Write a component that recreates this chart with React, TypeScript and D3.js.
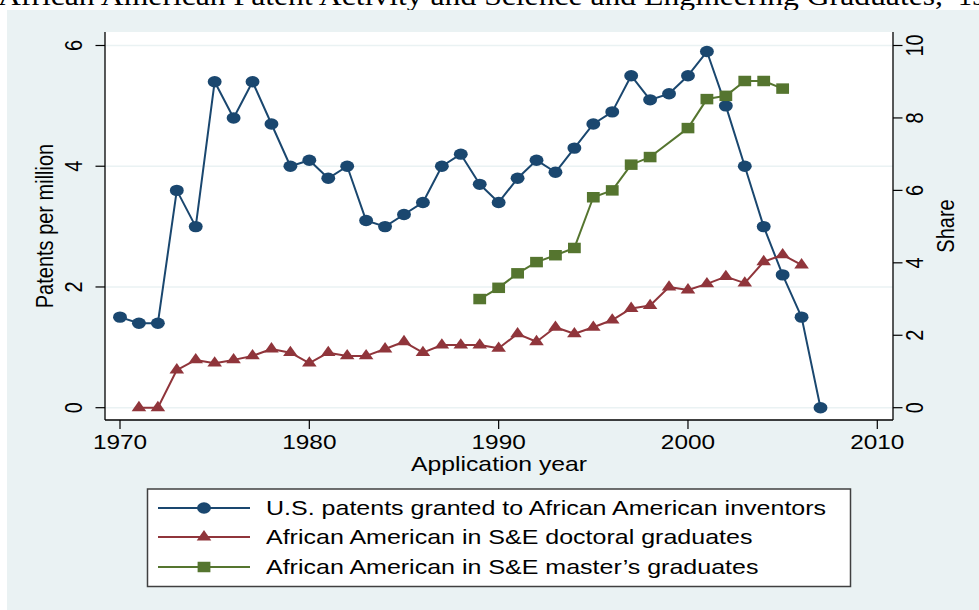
import React from "react";
import * as d3 from "d3";

const patentYears = [1970,1971,1972,1973,1974,1975,1976,1977,1978,1979,1980,1981,1982,1983,1984,1985,1986,1987,1988,1989,1990,1991,1992,1993,1994,1995,1996,1997,1998,1999,2000,2001,2002,2003,2004,2005,2006,2007];
const patentValues = [1.5,1.4,1.4,3.6,3.0,5.4,4.8,5.4,4.7,4.0,4.1,3.8,4.0,3.1,3.0,3.2,3.4,4.0,4.2,3.7,3.4,3.8,4.1,3.9,4.3,4.7,4.9,5.5,5.1,5.2,5.5,5.9,5.0,4.0,3.0,2.2,1.5,0];

const doctoralYears = [1971,1972,1973,1974,1975,1976,1977,1978,1979,1980,1981,1982,1983,1984,1985,1986,1987,1988,1989,1990,1991,1992,1993,1994,1995,1996,1997,1998,1999,2000,2001,2002,2003,2004,2005,2006];
const doctoralValues = [0,0,1.04,1.32,1.23,1.32,1.43,1.62,1.52,1.23,1.52,1.43,1.43,1.62,1.82,1.52,1.73,1.73,1.73,1.64,2.04,1.82,2.22,2.04,2.22,2.42,2.74,2.82,3.33,3.25,3.42,3.62,3.44,4.03,4.22,3.94];

const masterYears = [1989,1990,1991,1992,1993,1994,1995,1996,1997,1998,2000,2001,2002,2003,2004,2005];
const masterValues = [3.0,3.31,3.71,4.02,4.21,4.41,5.81,6.0,6.71,6.92,7.72,8.52,8.61,9.02,9.02,8.81];

const xTicks = [1970, 1980, 1990, 2000, 2010];
const leftTicks = [0, 2, 4, 6];
const rightTicks = [0, 2, 4, 6, 8, 10];

const seriesLabels = [
  "U.S. patents granted to African American inventors",
  "African American in S&E doctoral graduates",
  "African American in S\u0026E master\u2019s graduates",
];
const titleText = "African American Patent Activity and Science and Engineering Graduates,";
const titleTail = "1970\u20132007";

const NAVY = "#1a476f";
const MAROON = "#90353b";
const GREEN = "#55752f";
const BG = "#eaf2f3";
const SX = 1.22;
const FONT = "'Liberation Sans', Arial, Helvetica, sans-serif";

function ST({ x, y, rot, anchor, size, children }: any) {
  return (
    <g transform={`translate(${x},${y}) scale(${SX},1)${rot ? ` rotate(${rot})` : ""}`}>
      <text textAnchor={anchor || "start"} fontSize={size || 20} fontFamily={FONT} fill="#000">
        {children}
      </text>
    </g>
  );
}

export default function App() {
  const W = 979, H = 610;
  const plot = { x0: 105, x1: 893, y0: 32, y1: 420 };
  const x = d3.scaleLinear().domain([1970, 2010]).range([120, 877.3]);
  const yL = d3.scaleLinear().domain([0, 6]).range([407.7, 45.5]);
  const yR = d3.scaleLinear().domain([0, 10]).range([407.7, 45.5]);

  const blue = patentYears.map((yr, i) => [x(yr), yL(patentValues[i])] as [number, number]);
  const red = doctoralYears.map((yr, i) => [x(yr), yR(doctoralValues[i])] as [number, number]);
  const green = masterYears.map((yr, i) => [x(yr), yR(masterValues[i])] as [number, number]);
  const line = d3.line();

  const circ = d3.symbol().type(d3.symbolCircle).size(Math.PI * 5.7 * 5.7)()!;
  const tri = d3.symbol().type(d3.symbolTriangle).size(62)()!;
  const sq = d3.symbol().type(d3.symbolSquare).size(110)()!;

  const series = [
    { pts: blue, color: NAVY, sym: circ },
    { pts: red, color: MAROON, sym: tri },
    { pts: green, color: GREEN, sym: sq },
  ];

  const legendRows = [515, 544, 574];

  return (
    <svg width={W} height={H} style={{ position: "absolute", left: 0, top: 0 }} xmlns="http://www.w3.org/2000/svg">
      <rect x={0} y={0} width={W} height={H} fill="#fff" />
      <text x={-2} y={5} fontFamily="'Liberation Serif', 'Times New Roman', serif" fontSize={28} textLength={945} lengthAdjust="spacingAndGlyphs" fill="#000">
        {titleText}
      </text>
      <text x={958} y={5} fontFamily="'Liberation Serif', 'Times New Roman', serif" fontSize={28} fill="#000">
        {titleTail}
      </text>
      <rect x={7} y={10} width={W - 7} height={H - 10} fill={BG} />
      <rect x={plot.x0} y={plot.y0} width={plot.x1 - plot.x0} height={plot.y1 - plot.y0} fill="#fff" />

      {leftTicks.map((t) => (
        <line key={"g" + t} x1={plot.x0} x2={plot.x1} y1={yL(t)} y2={yL(t)} stroke={BG} strokeWidth={1.6} />
      ))}

      {/* axes */}
      <line x1={plot.x0} x2={plot.x0} y1={plot.y0} y2={plot.y1} stroke="#000" strokeWidth={1.3} />
      <line x1={plot.x1} x2={plot.x1} y1={plot.y0} y2={plot.y1} stroke="#000" strokeWidth={1.3} />
      <line x1={plot.x0} x2={plot.x1} y1={plot.y1} y2={plot.y1} stroke="#000" strokeWidth={1.3} />

      {leftTicks.map((t) => (
        <g key={"l" + t}>
          <line x1={plot.x0 - 9.5} x2={plot.x0} y1={yL(t)} y2={yL(t)} stroke="#000" strokeWidth={1.2} />
          <ST x={82.3} y={yL(t)} rot={-90} anchor="middle">{String(t)}</ST>
        </g>
      ))}
      {rightTicks.map((t) => (
        <g key={"r" + t}>
          <line x1={plot.x1} x2={plot.x1 + 9.5} y1={yR(t)} y2={yR(t)} stroke="#000" strokeWidth={1.2} />
          <ST x={923} y={yR(t)} rot={-90} anchor="middle">{String(t)}</ST>
        </g>
      ))}
      {xTicks.map((t) => (
        <g key={"x" + t}>
          <line x1={x(t)} x2={x(t)} y1={plot.y1} y2={plot.y1 + 9} stroke="#000" strokeWidth={1.2} />
          <ST x={x(t)} y={449} anchor="middle">{String(t)}</ST>
        </g>
      ))}

      <ST x={53} y={226} rot={-90} anchor="middle">Patents per million</ST>
      <ST x={954} y={226} rot={-90} anchor="middle">Share</ST>
      <ST x={(plot.x0 + plot.x1) / 2} y={471} anchor="middle" size={20.3}>Application year</ST>

      {series.map((s, i) => (
        <g key={"s" + i}>
          <path d={line(s.pts)!} fill="none" stroke={s.color} strokeWidth={2} strokeLinejoin="round" />
          {s.pts.map((p, j) => (
            <path key={j} d={s.sym} transform={`translate(${p[0]},${p[1]}) scale(${SX},1)`} fill={s.color} />
          ))}
        </g>
      ))}

      {/* legend */}
      <rect x={147.5} y={489} width={703} height={97.5} fill="#fff" stroke="#404040" strokeWidth={1.5} />
      {series.map((s, i) => (
        <g key={"lg" + i}>
          <line x1={158} x2={250} y1={legendRows[i] - 7} y2={legendRows[i] - 7} stroke={s.color} strokeWidth={2} />
          <path d={s.sym} transform={`translate(204,${legendRows[i] - 7}) scale(${SX},1)`} fill={s.color} />
          <ST x={266} y={legendRows[i]} size={20.5}>{seriesLabels[i]}</ST>
        </g>
      ))}
    </svg>
  );
}
